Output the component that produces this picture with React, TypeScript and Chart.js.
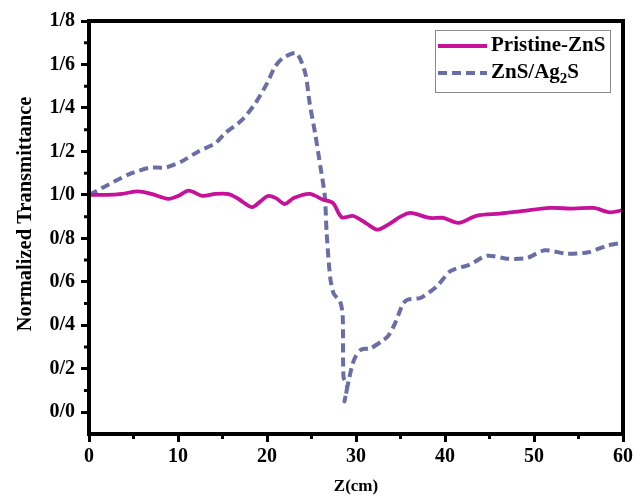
import React, { useEffect, useRef } from "react";
import { Chart, registerables } from "chart.js";

Chart.register(...registerables);

const pristineX = [0, 2, 3.7, 5.5, 7.0, 8.9, 10.0, 11.2, 12.7, 14.2, 15.7, 16.8, 18.3, 19.2, 20.1, 21.0, 22.0, 23.0, 24.8, 26.3, 27.4, 28.4, 29.7, 31.2, 32.4, 33.8, 35.0, 36.1, 38.3, 39.8, 41.5, 43.6, 46.2, 48.4, 51.8, 54.4, 56.7, 58.5, 60];
const pristineY = [1.0, 1.0, 1.005, 1.016, 1.005, 0.982, 0.995, 1.02, 0.996, 1.005, 1.004, 0.981, 0.944, 0.968, 0.995, 0.985, 0.958, 0.986, 1.005, 0.978, 0.963, 0.897, 0.903, 0.868, 0.84, 0.868, 0.9, 0.917, 0.894, 0.894, 0.871, 0.905, 0.914, 0.924, 0.94, 0.937, 0.94, 0.92, 0.93];

const ag2sX = [0, 1.8, 4.4, 6.7, 8.7, 10.4, 12.3, 14.2, 15.3, 17.2, 18.7, 20.0, 20.9, 21.8, 23.3, 24.3, 24.8, 25.4, 26.0, 26.5, 26.7, 27.1, 27.5, 28.2, 28.5, 28.6, 29.0, 28.7, 29.2, 29.6, 30.0, 30.6, 31.6, 32.9, 33.6, 34.4, 35.3, 35.9, 37.3, 39.1, 40.6, 42.8, 44.7, 47.1, 49.2, 51.2, 53.7, 56.1, 58.3, 60];
const ag2sY = [1.0, 1.039, 1.093, 1.124, 1.127, 1.154, 1.2, 1.238, 1.284, 1.345, 1.422, 1.513, 1.59, 1.63, 1.652, 1.56, 1.42, 1.285, 1.13, 0.993, 0.825, 0.62, 0.545, 0.51, 0.45, 0.16, 0.12, 0.05, 0.15, 0.22, 0.26, 0.289, 0.294, 0.327, 0.35, 0.41, 0.5, 0.519, 0.527, 0.58, 0.649, 0.68, 0.72, 0.706, 0.71, 0.745, 0.729, 0.736, 0.767, 0.78];

const seriesLabels = ["Pristine-ZnS", "ZnS/Ag2S"];
const xTitle = "Z(cm)";
const yTitle = "Normalized Transmittance";
const xTicks = [0, 10, 20, 30, 40, 50, 60];
const xMinorTicks = [5, 15, 25, 35, 45, 55];
const yTicks = [0, 0.2, 0.4, 0.6, 0.8, 1.0, 1.2, 1.4, 1.6, 1.8];
const yMinorTicks = [0.1, 0.3, 0.5, 0.7, 0.9, 1.1, 1.3, 1.5, 1.7];

const FONT = "'Liberation Serif', 'DejaVu Serif', serif";

const framePlugin = {
  id: "frame",
  afterDraw(chart: any) {
    const { ctx, chartArea: a, scales } = chart;
    ctx.save();
    ctx.strokeStyle = "#000";
    ctx.lineWidth = 4;
    ctx.strokeRect(a.left, a.top, a.right - a.left, a.bottom - a.top);
    ctx.lineWidth = 3;
    ctx.beginPath();
    xMinorTicks.forEach((v) => {
      const px = scales.x.getPixelForValue(v);
      ctx.moveTo(px, a.bottom);
      ctx.lineTo(px, a.bottom + 5);
    });
    yMinorTicks.forEach((v) => {
      const py = scales.y.getPixelForValue(v);
      ctx.moveTo(a.left, py);
      ctx.lineTo(a.left - 5, py);
    });
    ctx.stroke();

    // y title
    ctx.save();
    ctx.translate(26, 214);
    ctx.rotate(-Math.PI / 2);
    ctx.fillStyle = "#000";
    ctx.font = `bold 20.5px ${FONT}`;
    ctx.textAlign = "center";
    ctx.textBaseline = "middle";
    ctx.fillText(yTitle, 0, 0);
    ctx.restore();

    // legend
    const bx = 435, by = 30, bw = 175, bh = 62;
    ctx.fillStyle = "#fff";
    ctx.fillRect(bx, by, bw, bh);
    ctx.strokeStyle = "#8a8a8a";
    ctx.lineWidth = 1;
    ctx.strokeRect(bx + 0.5, by + 0.5, bw, bh);
    const rows = [46, 73];
    chart.data.datasets.forEach((ds: any, i: number) => {
      const y = rows[i];
      ctx.beginPath();
      ctx.strokeStyle = ds.borderColor;
      ctx.lineWidth = ds.borderWidth;
      ctx.setLineDash(ds.borderDash || []);
      ctx.moveTo(438, y);
      ctx.lineTo(487, y);
      ctx.stroke();
      ctx.setLineDash([]);
      ctx.fillStyle = "#000";
      ctx.textBaseline = "middle";
      ctx.textAlign = "left";
      ctx.font = `bold 21px ${FONT}`;
      const label: string = ds.label;
      const m = label.match(/^(.*?)(\d)(.*)$/);
      if (m && i === 1) {
        let x = 491;
        ctx.fillText(m[1], x, y);
        x += ctx.measureText(m[1]).width;
        ctx.font = `bold 15px ${FONT}`;
        ctx.fillText(m[2], x, y + 6);
        x += ctx.measureText(m[2]).width;
        ctx.font = `bold 21px ${FONT}`;
        ctx.fillText(m[3], x, y);
      } else {
        ctx.fillText(label, 491, y);
      }
    });
    ctx.restore();
  },
};

export default function App() {
  const ref = useRef<HTMLCanvasElement>(null);
  useEffect(() => {
    const chart = new Chart(ref.current!, {
      type: "line",
      data: {
        datasets: [
          {
            label: seriesLabels[0],
            data: pristineX.map((x, i) => ({ x, y: pristineY[i] })),
            borderColor: "#c7119b",
            borderWidth: 3.8,
            pointRadius: 0,
            tension: 0.3,
            fill: false,
          },
          {
            label: seriesLabels[1],
            data: ag2sX.map((x, i) => ({ x, y: ag2sY[i] })),
            borderColor: "#6a6ea6",
            borderWidth: 4,
            borderDash: [9, 5],
            pointRadius: 0,
            tension: 0.25,
            fill: false,
          },
        ],
      },
      options: {
        animation: false,
        responsive: false,
        layout: { padding: { top: 21, right: 21, left: 0, bottom: 0 } },
        plugins: { legend: { display: false }, tooltip: { enabled: false } },
        scales: {
          x: {
            type: "linear",
            min: 0,
            max: 60,
            afterBuildTicks: (s: any) => {
              s.ticks = xTicks.map((v) => ({ value: v }));
            },
            afterFit: (s: any) => {
              s.height = 63;
            },
            ticks: {
              color: "#000",
              padding: 3,
              font: { family: FONT, weight: "bold", size: 20 },
            },
            grid: { drawOnChartArea: false, drawTicks: true, tickLength: 8, tickWidth: 3, tickColor: "#000" },
            border: { display: false },
            title: {
              display: true,
              text: xTitle,
              color: "#000",
              font: { family: FONT, weight: "bold", size: 17 },
              padding: { top: 2, bottom: 0 },
            },
          },
          y: {
            type: "linear",
            min: -0.1,
            max: 1.8,
            afterBuildTicks: (s: any) => {
              s.ticks = yTicks.map((v) => ({ value: v }));
            },
            afterFit: (s: any) => {
              s.width = 89;
            },
            ticks: {
              color: "#000",
              padding: 6,
              font: { family: FONT, weight: "bold", size: 20 },
              callback: (v: any) => Number(v).toFixed(1).replace(".", "/"),
            },
            grid: { drawOnChartArea: false, drawTicks: true, tickLength: 8, tickWidth: 3, tickColor: "#000" },
            border: { display: false },
            title: { display: false },
          },
        },
      },
      plugins: [framePlugin],
    });
    return () => chart.destroy();
  }, []);
  return (
    <div style={{ position: "fixed", left: 0, top: 0, width: 644, height: 497, background: "#fff" }}>
      <canvas ref={ref} width={644} height={497} style={{ width: 644, height: 497 }} />
    </div>
  );
}
